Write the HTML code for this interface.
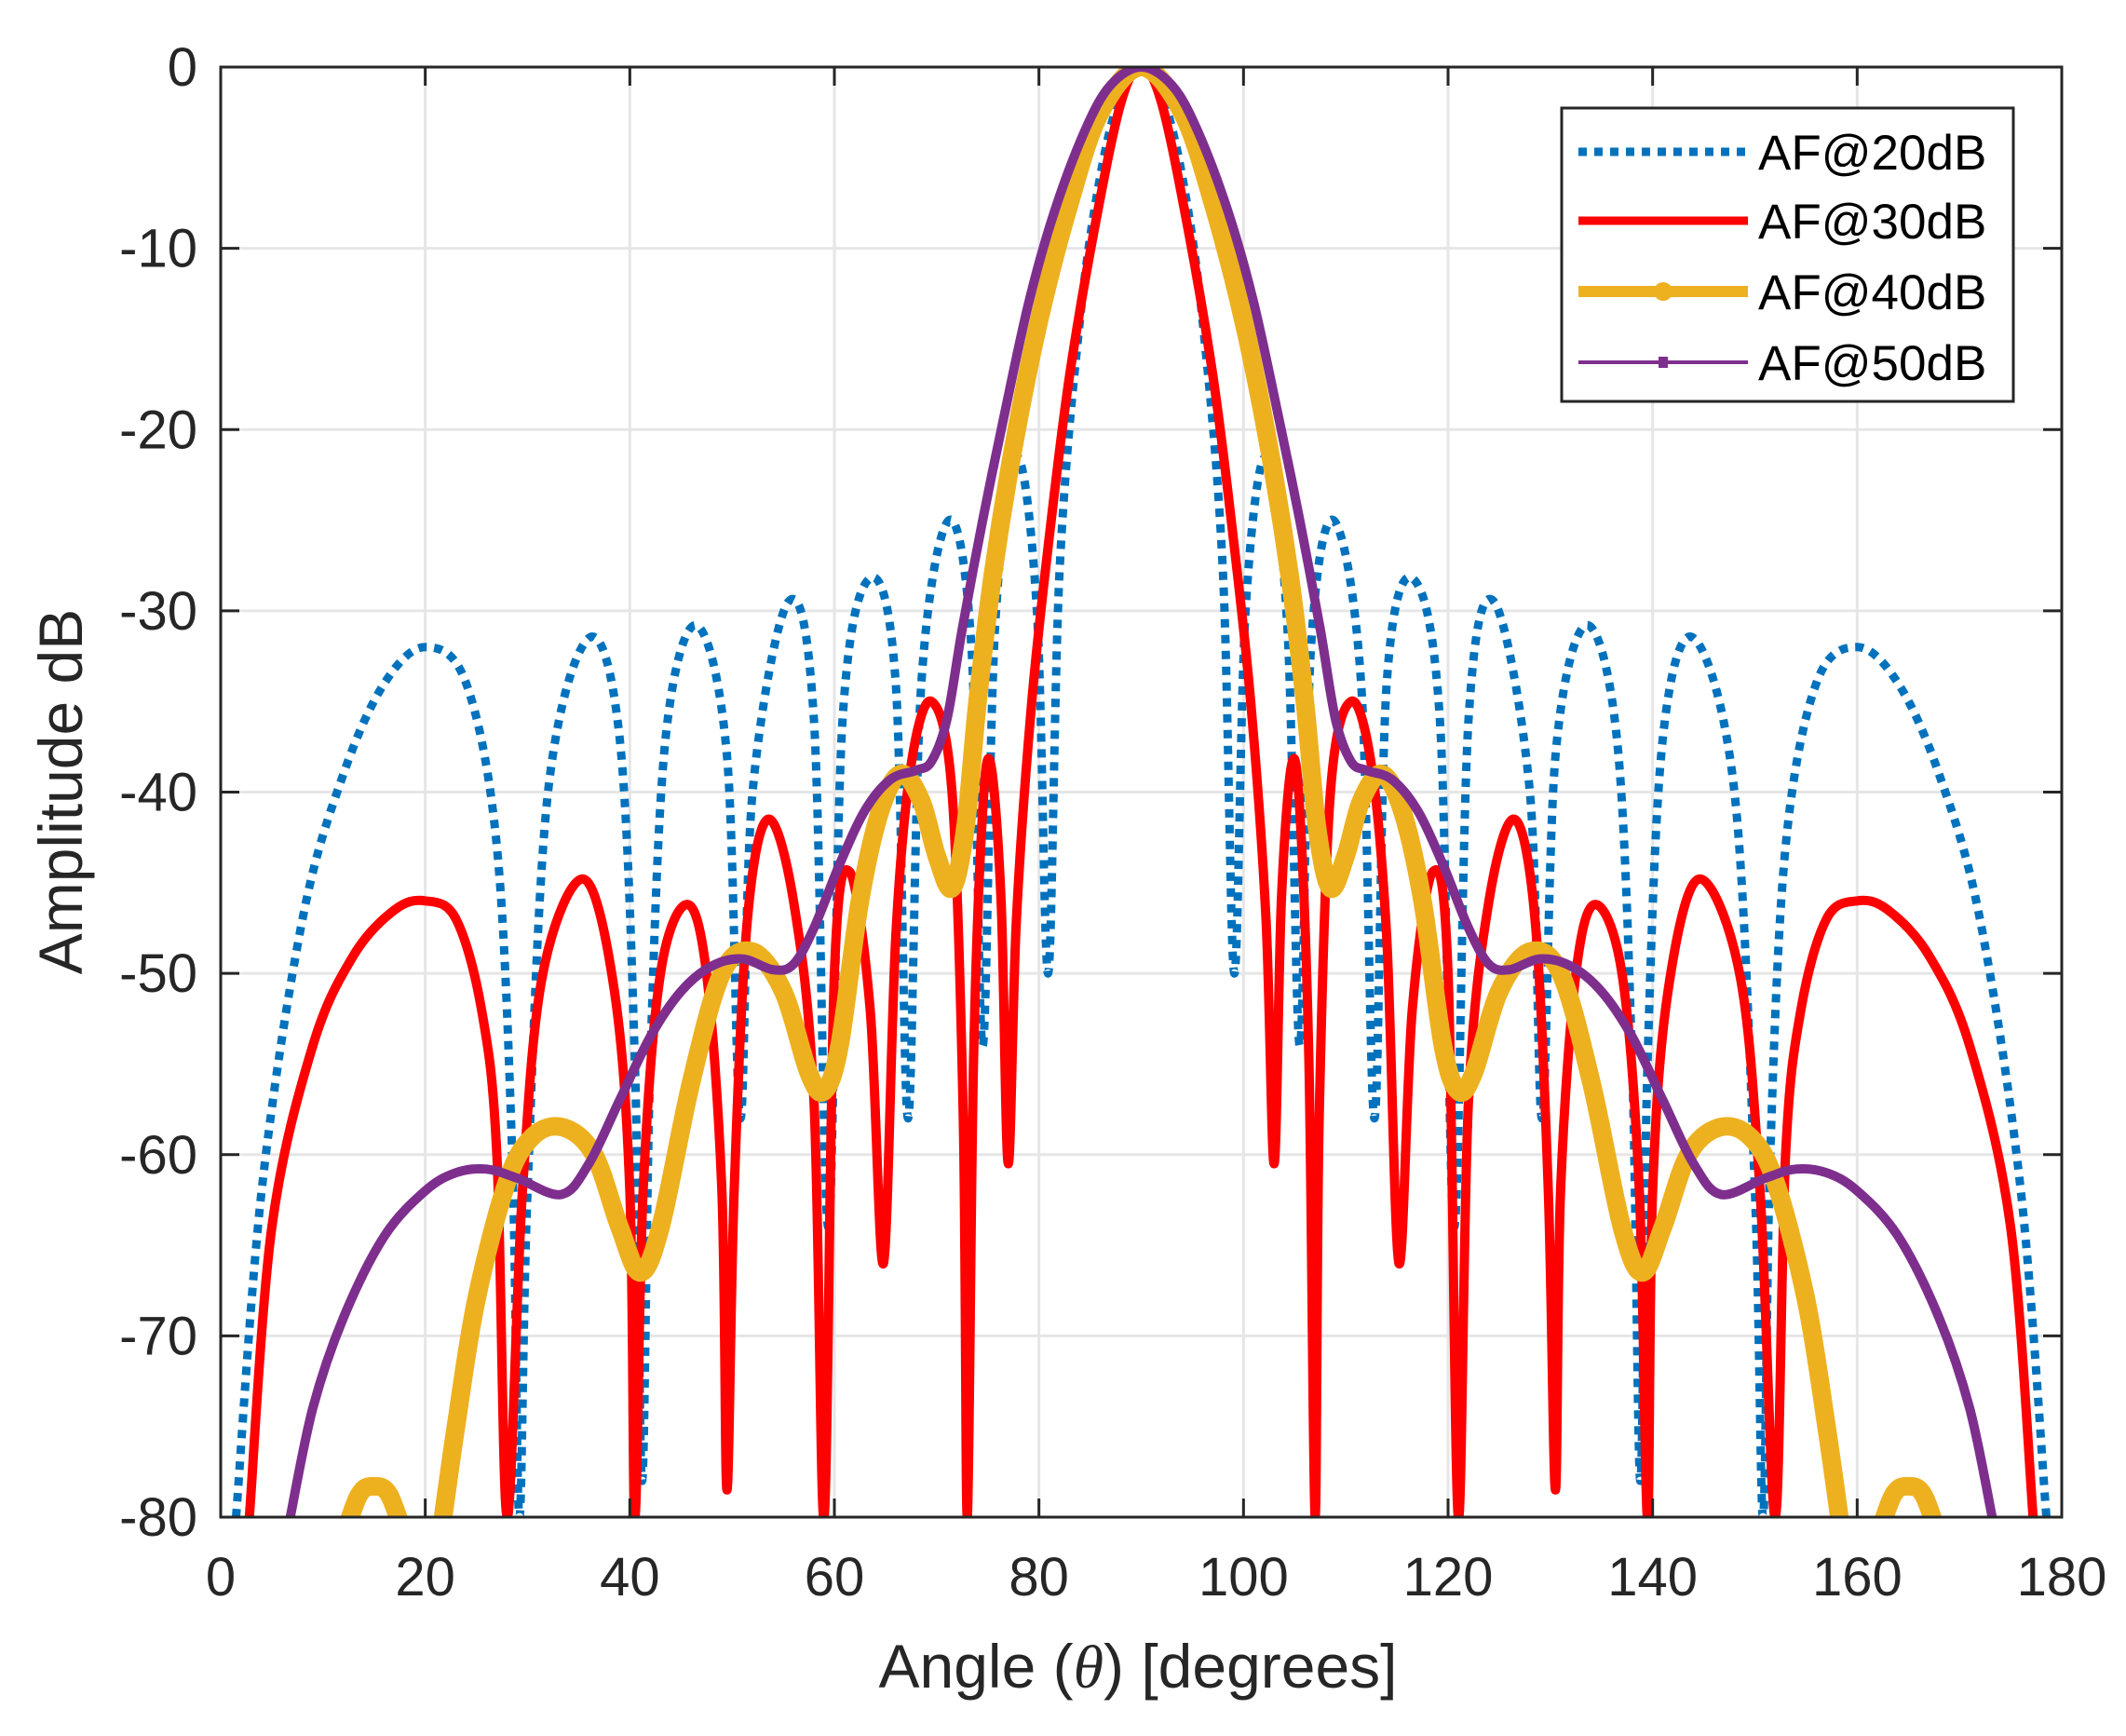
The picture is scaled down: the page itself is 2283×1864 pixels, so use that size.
<!DOCTYPE html>
<html><head><meta charset="utf-8"><style>
html,body{margin:0;padding:0;background:#fff;}
svg{display:block;font-family:"Liberation Sans",sans-serif;}
</style></head><body>
<svg id="chart" width="2283" height="1864" viewBox="0 0 2283 1864" xmlns="http://www.w3.org/2000/svg">
<defs><clipPath id="plotclip"><rect x="237" y="72" width="1977" height="1557"/></clipPath></defs>
<rect x="237" y="72" width="1977" height="1557" fill="#fff"/>
<g id="grid"></g>
<g id="series" clip-path="url(#plotclip)"></g>
<rect x="237" y="72" width="1977" height="1557" fill="none" stroke="#262626" stroke-width="3"/>
<g id="ticks"></g>
<text x="1222" y="1812" font-size="66" text-anchor="middle" fill="#262626">Angle (<tspan font-family="Liberation Serif" font-style="italic">θ</tspan>) [degrees]</text>
<text transform="translate(88,850) rotate(-90)" font-size="66" text-anchor="middle" fill="#262626">Amplitude dB</text>
<g id="legend">
<rect x="1677" y="116" width="485" height="315" fill="#fff" stroke="#262626" stroke-width="3"/>
</g>
</svg>
<script>
const xTicks=[0,20,40,60,80,100,120,140,160,180];
const yTicks=[0,-10,-20,-30,-40,-50,-60,-70,-80];
const seriesNames=["AF@20dB","AF@30dB","AF@40dB","AF@50dB"];
const af20Angles=[1.5,4,8,12,16,20,24,27,28.5,29.2,30,32,36,39,40.5,41.2,42,43.5,46.5,49.5,50.8,52,55.5,58,59.4,60.8,63.5,66,67.2,68.5,71.2,73.4,74.5,75.7,77.8,79.8,80.9,82,84,86,88,90,92,94,96,98,99.1,100.2,102.2,104.3,105.5,106.6,108.8,111.5,112.8,114,116.5,119.2,120.6,122,124.5,128,129.2,130.5,133.5,136.5,138,138.8,139.5,141,144,148,150,150.8,151.5,153,156,160,164,168,172,176,178.5];
const af20Values=[-80,-62,-47,-39,-34,-32,-34,-43,-60,-80,-62,-40,-31.5,-37,-55,-78,-55,-37,-30.8,-38,-58,-40,-29.5,-36,-64,-36,-28.2,-34,-58,-34,-25,-32,-54,-31,-21.5,-30,-50,-28,-14,-6,-1.5,0,-1.5,-6,-14,-28,-50,-30,-21.5,-31,-54,-32,-25,-34,-58,-34,-28.2,-36,-64,-36,-29.5,-40,-58,-38,-30.8,-37,-55,-78,-55,-37,-31.5,-40,-62,-80,-60,-43,-34,-32,-34,-39,-47,-62,-80];
const af30Angles=[2.8,5,9,13,17,20,23,25.5,27,28,29.5,31.5,35.5,38.5,40,40.5,41.3,43,45.6,47.5,49,49.5,50.2,51.5,53.5,56,58,59,60,61.5,63.5,64.8,66,67.5,69.5,71.5,72.6,73,73.6,74.5,75.3,76.3,77,77.8,79.3,81.2,83,85.4,88,90,92,94.6,97,98.8,100.7,102.2,103,103.7,104.7,105.5,106.4,107,107.4,108.5,110.5,112.5,114,115.2,116.5,118.5,120,121,122,124,126.5,128.5,129.8,130.5,131,132.5,134.4,137,138.7,139.5,140,141.5,144.5,148.5,150.5,152,153,154.5,157,160,163,167,171,175,177.2];
const af30Values=[-80,-64,-54,-49,-46.5,-46,-47,-52,-60,-80,-62,-50,-44.8,-51,-62,-80,-62,-50,-46.2,-50,-62,-78.5,-62,-47,-41.5,-46,-57,-80,-50,-44.4,-52,-66,-48,-38.5,-35,-40,-58,-80,-55,-41,-38.5,-46,-60.5,-47,-35,-25,-17,-9,-2,0,-2,-9,-17,-25,-35,-47,-60.5,-46,-38.5,-41,-55,-80,-58,-40,-35,-38.5,-48,-66,-52,-44.4,-50,-80,-57,-46,-41.5,-47,-62,-78.5,-62,-50,-46.2,-50,-62,-80,-62,-51,-44.8,-50,-62,-80,-60,-52,-47,-46,-46.5,-49,-54,-64,-80];
const af40Angles=[21.5,23,25,28,30.5,33.5,36.5,39,41,43,46,49,52,55,57.5,59,60.5,62.5,64.5,66.5,68.5,70,71.5,72.8,74,75.5,77.5,80,83,86,90,94,97,100,102.5,104.5,106,107.2,108.5,110,111.5,113.5,115.5,117.5,119.5,121,122.5,125,128,131,134,137,139,141,143.5,146.5,149.5,152,155,157,158.5];
const af40Values=[-81,-75,-68,-61.5,-59,-58.5,-60,-64,-66.5,-64,-56,-50,-48.8,-51,-55.5,-56.5,-54,-46,-41,-39,-40.5,-43.5,-45.3,-42,-35,-28,-21,-14,-7.5,-2.5,0,-2.5,-7.5,-14,-21,-28,-35,-42,-45.3,-43.5,-40.5,-39,-41,-46,-54,-56.5,-55.5,-51,-48.8,-50,-56,-64,-66.5,-64,-60,-58.5,-59,-61.5,-68,-75,-81];
const af40HumpLAngles=[11.8,13.5,15,16.5,18.2];
const af40HumpLValues=[-81.5,-78.8,-78.3,-78.8,-81.5];
const af40HumpRAngles=[161.8,163.5,165,166.5,168.2];
const af40HumpRValues=[-81.5,-78.8,-78.3,-78.8,-81.5];
const af50Angles=[6.8,9,12,16,20,23,26,29,33.3,36,39,42,45,48,51,54,56,58,60.5,63,65.5,68,69.5,71,72.5,74.5,76.5,79,81.5,84.5,87,90,93,95.5,98.5,101,103.5,105.5,107.5,109,110.5,112,114.5,117,119.5,122,124,126,129,132,135,138,141,144,146.7,151,154,157,160,164,168,171,173.2];
const af50Values=[-80,-74,-69,-64.5,-62,-61,-60.8,-61.3,-62.2,-60.5,-57,-53.5,-51,-49.6,-49.2,-49.8,-49.5,-47.5,-44,-41,-39.3,-38.8,-38.3,-36,-31,-25,-19.5,-13,-8,-3.5,-1,0,-1,-3.5,-8,-13,-19.5,-25,-31,-36,-38.3,-38.8,-39.3,-41,-44,-47.5,-49.5,-49.8,-49.2,-49.6,-51,-53.5,-57,-60.5,-62.2,-61.3,-60.8,-61,-62,-64.5,-69,-74,-80];

const L=237,R=2214,T=72,B=1629;
function xs(v){return L+(v-0)/(180-0)*(R-L);}
function ys(v){return T+(0-v)/(0-(-80))*(B-T);}
const NS="http://www.w3.org/2000/svg";
function mk(tag,attrs,parent){const e=document.createElementNS(NS,tag);for(const k in attrs)e.setAttribute(k,attrs[k]);parent.appendChild(e);return e;}
const grid=document.getElementById('grid'),ticks=document.getElementById('ticks'),ser=document.getElementById('series'),leg=document.getElementById('legend');
xTicks.forEach(t=>{
 const gl=mk('line',{x1:xs(t),x2:xs(t),y1:T,y2:B,stroke:'#e6e6e6','stroke-width':3},grid);
 
 
 const tk=mk('path',{d:`M${xs(t)},${B}v-20M${xs(t)},${T}v20`,stroke:'#262626','stroke-width':3},ticks);
 
 
 const tl=mk('text',{x:xs(t),y:1713,'font-size':58,'text-anchor':'middle',fill:'#262626'},ticks);
 tl.textContent=t;
 
 
});
yTicks.forEach(t=>{
 const gl=mk('line',{x1:L,x2:R,y1:ys(t),y2:ys(t),stroke:'#e6e6e6','stroke-width':3},grid);
 
 
 const tk=mk('path',{d:`M${L},${ys(t)}h20M${R},${ys(t)}h-20`,stroke:'#262626','stroke-width':3},ticks);
 
 
 const tl=mk('text',{x:212,y:ys(t)+20,'font-size':58,'text-anchor':'end',fill:'#262626'},ticks);
 tl.textContent=t;
 
 
});
function smooth(ax,vals){
 const p=ax.map((a,i)=>[xs(a),ys(vals[i])]);
 let d=`M${p[0][0]},${p[0][1]}`;
 for(let i=0;i<p.length-1;i++){
  const p0=p[i-1]||p[i],p1=p[i],p2=p[i+1],p3=p[i+2]||p2;
  const c1x=p1[0]+(p2[0]-p0[0])/6,c1y=p1[1]+(p2[1]-p0[1])/6;
  const c2x=p2[0]-(p3[0]-p1[0])/6,c2y=p2[1]-(p3[1]-p1[1])/6;
  d+=`C${c1x},${c1y} ${c2x},${c2y} ${p2[0]},${p2[1]}`;
 }
 return d;
}
const s20=mk('path',{d:smooth(af20Angles,af20Values),fill:'none',stroke:'#0072BD','stroke-width':9,'stroke-dasharray':'9 8'},ser);


const s30=mk('path',{d:smooth(af30Angles,af30Values),fill:'none',stroke:'#FF0000','stroke-width':10,'stroke-linejoin':'round'},ser);


const s40=mk('path',{d:smooth(af40Angles,af40Values),fill:'none',stroke:'#EDB120','stroke-width':20,'stroke-linejoin':'round','stroke-linecap':'round'},ser);


const s40a=mk('path',{d:smooth(af40HumpLAngles,af40HumpLValues),fill:'none',stroke:'#EDB120','stroke-width':20,'stroke-linecap':'round'},ser);


const s40b=mk('path',{d:smooth(af40HumpRAngles,af40HumpRValues),fill:'none',stroke:'#EDB120','stroke-width':20,'stroke-linecap':'round'},ser);


const s50=mk('path',{d:smooth(af50Angles,af50Values),fill:'none',stroke:'#7E2F8E','stroke-width':10,'stroke-linejoin':'round'},ser);


const ly=[163,237,313,389];
const styles=[
 {stroke:'#0072BD','stroke-width':9,'stroke-dasharray':'9 8'},
 {stroke:'#FF0000','stroke-width':9},
 {stroke:'#EDB120','stroke-width':12},
 {stroke:'#7E2F8E','stroke-width':4}];
seriesNames.forEach((n,i)=>{
 const a=Object.assign({x1:1695,x2:1877,y1:ly[i],y2:ly[i]},styles[i]);
 const ln=mk('line',a,leg);
 
 
 if(i===2){const c=mk('circle',{cx:1786,cy:ly[i],r:10,fill:'#EDB120'},leg);
  
  }
 if(i===3){const c=mk('rect',{x:1781,y:ly[i]-6,width:10,height:12,fill:'#7E2F8E'},leg);
  
  }
 const t=mk('text',{x:1888,y:ly[i]+19,'font-size':53,fill:'#000'},leg);
 t.textContent=n;
 
 
});
</script>
</body></html>
